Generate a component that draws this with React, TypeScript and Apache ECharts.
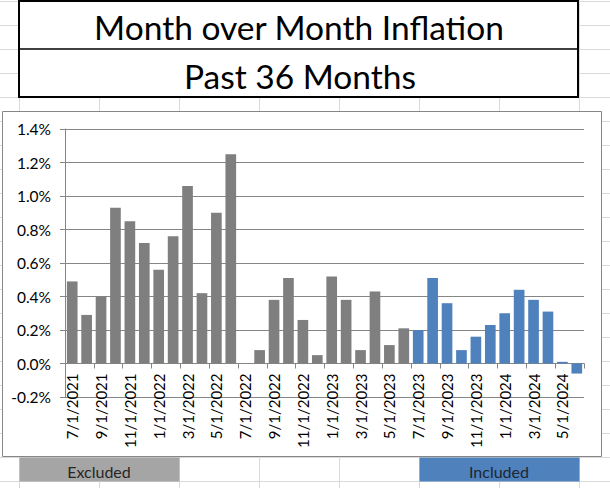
import React, { useEffect, useRef } from "react";
import * as echarts from "echarts";

const categories = [
  "7/1/2021", "8/1/2021", "9/1/2021", "10/1/2021", "11/1/2021", "12/1/2021",
  "1/1/2022", "2/1/2022", "3/1/2022", "4/1/2022", "5/1/2022", "6/1/2022",
  "7/1/2022", "8/1/2022", "9/1/2022", "10/1/2022", "11/1/2022", "12/1/2022",
  "1/1/2023", "2/1/2023", "3/1/2023", "4/1/2023", "5/1/2023", "6/1/2023",
  "7/1/2023", "8/1/2023", "9/1/2023", "10/1/2023", "11/1/2023", "12/1/2023",
  "1/1/2024", "2/1/2024", "3/1/2024", "4/1/2024", "5/1/2024", "6/1/2024",
];

const values = [
  0.49, 0.29, 0.40, 0.93, 0.85, 0.72, 0.56, 0.76, 1.06, 0.42, 0.90, 1.25,
  0.0, 0.08, 0.38, 0.51, 0.26, 0.05, 0.52, 0.38, 0.08, 0.43, 0.11, 0.21,
  0.20, 0.51, 0.36, 0.08, 0.16, 0.23, 0.30, 0.44, 0.38, 0.31, 0.01, -0.06,
];

const excludedCount = 24;

const yMin = -0.2;
const yMax = 1.4;
const yStep = 0.2;

const titleLines = ["Month over Month Inflation", "Past 36 Months"];
const legendLabels = ["Excluded", "Included"];

const GRAY = "#7f7f7f";
const BLUE = "#4f81bd";
const AXIS = "#868686";
const SHEET = "#dadada";
const FONT = "Lato, 'Noto Sans', sans-serif";

const GRID_TOP = 129;
const GRID_BOTTOM = 91;
const GRID_H = 488 - GRID_TOP - GRID_BOTTOM;

export default function App() {
  const ref = useRef<HTMLDivElement>(null);

  useEffect(() => {
    if (!ref.current) return;
    const chart = echarts.init(ref.current, undefined, { renderer: "svg" });

    const bg: any[] = [];
    for (let k = 0; k <= 20; k++) {
      const y = 1 + 24 * k + 0.5;
      bg.push({
        type: "line",
        z: -100,
        shape: { x1: 0, y1: y, x2: 610, y2: y },
        style: { stroke: SHEET, lineWidth: 1 },
      });
    }
    for (let j = 0; j <= 7; j++) {
      const x = 19 + 80 * j + 0.5;
      bg.push({
        type: "line",
        z: -100,
        shape: { x1: x, y1: 0, x2: x, y2: 488 },
        style: { stroke: SHEET, lineWidth: 1 },
      });
    }

    const elements: any[] = [
      ...bg,
      {
        type: "rect",
        z: -50,
        shape: { x: 2.5, y: 111.5, width: 599, height: 345 },
        style: { fill: "#ffffff", stroke: AXIS, lineWidth: 1 },
      },
      {
        type: "rect",
        z: -50,
        shape: { x: 19, y: 1, width: 559, height: 96 },
        style: { fill: "#ffffff", stroke: "#000000", lineWidth: 2 },
      },
      {
        type: "line",
        z: -49,
        shape: { x1: 19, y1: 49, x2: 578, y2: 49 },
        style: { stroke: "#000000", lineWidth: 1.5 },
      },
      {
        type: "text",
        z: -40,
        x: 299,
        y: 27,
        style: {
          text: titleLines[0],
          fill: "#000000",
          font: `33.5px ${FONT}`,
          align: "center",
          verticalAlign: "middle",
        },
      },
      {
        type: "text",
        z: -40,
        x: 300,
        y: 76,
        style: {
          text: titleLines[1],
          fill: "#000000",
          font: `33.5px ${FONT}`,
          align: "center",
          verticalAlign: "middle",
        },
      },
      {
        type: "rect",
        z: -50,
        shape: { x: 19.5, y: 457.5, width: 160, height: 24 },
        style: { fill: "#a5a5a5" },
      },
      {
        type: "rect",
        z: -50,
        shape: { x: 419.5, y: 457.5, width: 160, height: 24 },
        style: { fill: BLUE },
      },
      {
        type: "text",
        z: -40,
        x: 99,
        y: 471,
        style: {
          text: legendLabels[0],
          fill: "#262626",
          font: `16px ${FONT}`,
          align: "center",
          verticalAlign: "middle",
        },
      },
      {
        type: "text",
        z: -40,
        x: 499,
        y: 471,
        style: {
          text: legendLabels[1],
          fill: "#1c2633",
          font: `16px ${FONT}`,
          align: "center",
          verticalAlign: "middle",
        },
      },
    ];

    // x axis sits on the zero line: shift it up from the grid bottom
    const zeroOffset = (GRID_H * (0 - yMin)) / (yMax - yMin);

    chart.setOption({
      animation: false,
      backgroundColor: "#ffffff",
      graphic: { elements },
      grid: { left: 65, right: 26, top: GRID_TOP, bottom: GRID_BOTTOM, containLabel: false },
      xAxis: {
        type: "category",
        data: categories,
        boundaryGap: true,
        offset: -zeroOffset,
        axisLine: { show: true, onZero: false, lineStyle: { color: AXIS, width: 1 } },
        axisTick: { show: true, interval: 1, length: 5, alignWithLabel: false, lineStyle: { color: AXIS } },
        axisLabel: {
          interval: 1,
          rotate: 90,
          margin: 10,
          color: "#000000",
          fontSize: 15,
          fontFamily: FONT,
        },
        splitLine: { show: false },
      },
      yAxis: {
        type: "value",
        min: yMin,
        max: yMax,
        interval: yStep,
        axisLine: { show: true, lineStyle: { color: AXIS, width: 1 } },
        axisTick: { show: true, length: 5, lineStyle: { color: AXIS } },
        axisLabel: {
          margin: 14,
          color: "#000000",
          fontSize: 15.5,
          fontFamily: FONT,
          formatter: (v: number) => `${v.toFixed(1)}%`,
        },
        splitLine: { show: true, lineStyle: { color: AXIS, width: 1 } },
      },
      series: [
        {
          type: "bar",
          barCategoryGap: "26%",
          data: values.map((v, i) => ({
            value: v,
            itemStyle: { color: i < excludedCount ? GRAY : BLUE },
          })),
        },
      ],
    });

    return () => chart.dispose();
  }, []);

  return (
    <div
      ref={ref}
      style={{ position: "absolute", left: 0, top: 0, width: 610, height: 488 }}
    />
  );
}
